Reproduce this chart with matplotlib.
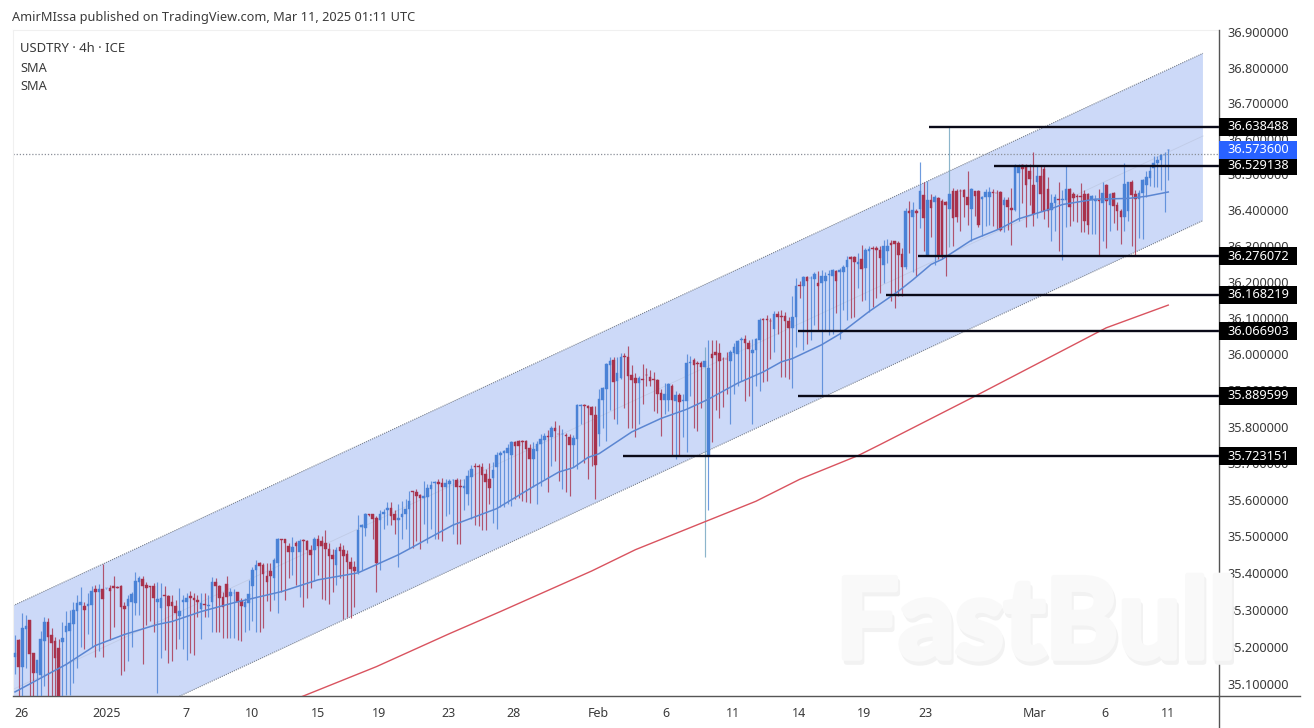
import matplotlib
matplotlib.use("Agg")
import matplotlib.pyplot as plt
import matplotlib.patheffects as pe
from matplotlib.patches import Rectangle, Polygon
from matplotlib.transforms import IdentityTransform
from matplotlib.ticker import NullLocator, FixedLocator, NullFormatter

plt.rcParams['font.family'] = ['Noto Sans', 'DejaVu Sans']

opens = [
35.176,35.223,35.149,35.253,35.276,35.187,35.133,35.129,35.22,35.271,
35.237,35.221,35.201,35.217,35.246,35.248,35.266,35.302,35.318,35.314,
35.314,35.318,35.36,35.354,35.36,35.363,35.363,35.369,35.366,35.37,
35.314,35.314,35.327,35.323,35.381,35.388,35.372,35.368,35.368,35.327,
35.309,35.345,35.341,35.327,35.316,35.289,35.327,35.325,35.341,35.338,
35.332,35.307,35.321,35.314,35.325,35.381,35.369,35.339,35.374,35.341,
35.349,35.354,35.329,35.311,35.323,35.368,35.413,35.431,35.426,35.397,
35.411,35.392,35.431,35.497,35.496,35.478,35.462,35.487,35.462,35.494,
35.491,35.467,35.467,35.496,35.491,35.485,35.471,35.453,35.426,35.474,
35.467,35.455,35.435,35.42,35.408,35.53,35.527,35.564,35.564,35.554,
35.55,35.564,35.575,35.581,35.564,35.55,35.556,35.565,35.578,35.627,
35.626,35.617,35.608,35.612,35.633,35.649,35.652,35.649,35.638,35.647,
35.657,35.659,35.641,35.636,35.62,35.667,35.696,35.696,35.693,35.674,
35.66,35.663,35.695,35.727,35.732,35.732,35.726,35.761,35.764,35.766,
35.766,35.746,35.716,35.738,35.757,35.768,35.779,35.777,35.8,35.785,
35.783,35.782,35.777,35.755,35.77,35.861,35.863,35.862,35.859,35.836,
35.784,35.879,35.909,35.975,35.988,35.929,35.938,36.0,35.997,35.947,
35.938,35.925,35.936,35.948,35.941,35.935,35.934,35.897,35.877,35.879,
35.915,35.876,35.891,35.875,35.875,35.981,35.988,35.98,35.979,35.97,
35.725,36.004,36.011,36.006,35.992,35.992,35.985,36.006,36.004,36.044,
36.045,36.034,36.006,36.015,36.043,36.102,36.101,36.097,36.073,36.114,
36.111,36.111,36.096,36.077,36.108,36.195,36.192,36.217,36.214,36.213,
36.201,36.201,36.207,36.223,36.222,36.235,36.233,36.232,36.247,36.273,
36.273,36.254,36.269,36.243,36.289,36.298,36.299,36.294,36.252,36.291,
36.313,36.317,36.313,36.282,36.247,36.403,36.385,36.403,36.407,36.446,
36.278,36.433,36.426,36.437,36.429,36.426,36.407,36.458,36.458,36.458,
36.46,36.44,36.407,36.457,36.458,36.435,36.44,36.442,36.456,36.453,
36.454,36.419,36.433,36.41,36.405,36.509,36.53,36.528,36.514,36.475,
36.482,36.5,36.519,36.463,36.405,36.423,36.436,36.434,36.432,36.463,
36.449,36.443,36.443,36.449,36.449,36.432,36.431,36.432,36.423,36.475,
36.419,36.451,36.419,36.401,36.385,36.403,36.482,36.449,36.435,36.452,
36.475,36.495,36.522,36.535,36.544,36.558,36.572]

closes = [
35.189,35.149,35.255,35.262,35.185,35.133,35.169,35.226,35.273,35.232,
35.214,35.174,35.06,35.228,35.262,35.268,35.305,35.323,35.327,35.305,
35.32,35.357,35.352,35.361,35.333,35.364,35.357,35.365,35.365,35.311,
35.307,35.334,35.347,35.384,35.39,35.368,35.363,35.366,35.336,35.334,
35.336,35.341,35.314,35.314,35.295,35.302,35.332,35.338,35.336,35.33,
35.325,35.323,35.319,35.318,35.381,35.368,35.338,35.312,35.34,35.354,
35.351,35.325,35.316,35.327,35.347,35.413,35.426,35.424,35.401,35.381,
35.397,35.44,35.496,35.495,35.486,35.462,35.476,35.477,35.491,35.491,
35.467,35.453,35.496,35.478,35.478,35.469,35.451,35.444,35.467,35.465,
35.451,35.435,35.415,35.411,35.521,35.535,35.564,35.562,35.552,35.431,
35.564,35.572,35.581,35.559,35.548,35.554,35.565,35.578,35.601,35.626,
35.615,35.609,35.615,35.636,35.645,35.652,35.647,35.638,35.649,35.656,
35.659,35.638,35.639,35.642,35.67,35.688,35.694,35.694,35.673,35.652,
35.636,35.685,35.727,35.731,35.738,35.745,35.761,35.75,35.752,35.761,
35.743,35.716,35.743,35.757,35.77,35.778,35.775,35.8,35.793,35.783,
35.785,35.778,35.755,35.773,35.864,35.863,35.861,35.857,35.837,35.698,
35.881,35.911,35.976,35.986,35.927,35.952,35.997,35.995,35.945,35.934,
35.925,35.938,35.934,35.946,35.929,35.933,35.895,35.877,35.895,35.922,
35.879,35.891,35.873,35.877,35.979,35.983,35.975,35.978,35.97,35.984,
35.965,35.993,36.002,35.985,35.99,35.99,36.011,36.025,36.04,36.046,
36.034,36.018,36.015,36.045,36.1,36.1,36.098,36.095,36.114,36.108,
36.108,36.096,36.077,36.108,36.192,36.193,36.217,36.207,36.216,36.226,
36.192,36.22,36.222,36.225,36.238,36.207,36.238,36.247,36.266,36.269,
36.261,36.261,36.24,36.294,36.297,36.296,36.292,36.271,36.303,36.303,
36.308,36.31,36.28,36.247,36.403,36.396,36.405,36.396,36.457,36.382,
36.433,36.41,36.44,36.275,36.275,36.419,36.449,36.382,36.384,36.457,
36.44,36.419,36.463,36.443,36.364,36.442,36.454,36.456,36.452,36.451,
36.349,36.432,36.414,36.406,36.528,36.528,36.519,36.475,36.491,36.394,
36.5,36.449,36.403,36.403,36.423,36.44,36.434,36.436,36.463,36.414,
36.437,36.441,36.441,36.373,36.364,36.445,36.433,36.43,36.451,36.429,
36.449,36.417,36.401,36.385,36.477,36.482,36.446,36.435,36.452,36.488,
36.497,36.514,36.535,36.544,36.559,36.56,36.5736]

highs = [
35.237,35.225,35.295,35.29,35.278,35.187,35.169,35.248,35.285,35.282,
35.255,35.23,35.226,35.273,35.302,35.305,35.327,35.345,35.366,35.327,
35.35,35.368,35.372,35.374,35.43,35.364,35.372,35.397,35.368,35.372,
35.327,35.345,35.354,35.406,35.397,35.397,35.381,35.37,35.377,35.379,
35.377,35.368,35.345,35.345,35.332,35.365,35.345,35.35,35.356,35.35,
35.345,35.35,35.35,35.345,35.395,35.392,35.372,35.354,35.397,35.363,
35.362,35.354,35.336,35.336,35.386,35.422,35.44,35.435,35.431,35.431,
35.431,35.446,35.5,35.498,35.498,35.487,35.503,35.491,35.496,35.498,
35.494,35.48,35.503,35.509,35.505,35.521,35.485,35.471,35.476,35.485,
35.48,35.467,35.449,35.437,35.563,35.539,35.568,35.566,35.566,35.561,
35.575,35.579,35.597,35.599,35.575,35.593,35.601,35.606,35.627,35.628,
35.633,35.62,35.656,35.647,35.656,35.656,35.661,35.663,35.661,35.661,
35.661,35.663,35.661,35.661,35.686,35.699,35.706,35.702,35.706,35.688,
35.706,35.708,35.734,35.738,35.74,35.757,35.764,35.764,35.768,35.768,
35.768,35.757,35.761,35.764,35.784,35.787,35.795,35.807,35.82,35.81,
35.798,35.786,35.784,35.782,35.868,35.868,35.866,35.864,35.862,35.862,
35.909,35.913,35.979,35.997,35.997,35.997,36.006,36.006,36.027,35.975,
35.952,35.943,35.976,35.967,35.961,35.956,35.936,35.909,35.925,35.925,
35.922,35.902,35.897,35.893,36.004,36.0,35.993,35.984,35.984,36.024,
36.043,36.043,36.043,36.034,35.997,36.009,36.016,36.034,36.043,36.052,
36.056,36.043,36.047,36.049,36.103,36.103,36.113,36.103,36.124,36.124,
36.127,36.122,36.108,36.164,36.215,36.206,36.222,36.22,36.222,36.232,
36.235,36.238,36.233,36.238,36.24,36.238,36.243,36.252,36.275,36.275,
36.275,36.284,36.308,36.299,36.303,36.303,36.303,36.303,36.322,36.325,
36.322,36.319,36.317,36.299,36.41,36.429,36.426,36.407,36.54,36.482,
36.486,36.449,36.447,36.44,36.435,36.431,36.638,36.466,36.463,36.463,
36.463,36.514,36.466,36.458,36.46,36.445,36.463,36.468,36.463,36.46,
36.457,36.44,36.44,36.466,36.533,36.533,36.533,36.533,36.533,36.568,
36.528,36.528,36.528,36.496,36.449,36.449,36.482,36.46,36.528,36.466,
36.454,36.449,36.479,36.46,36.451,36.447,36.447,36.463,36.482,36.477,
36.451,36.454,36.426,36.407,36.537,36.484,36.489,36.46,36.46,36.491,
36.514,36.528,36.556,36.556,36.562,36.568,36.575]

lows = [
35.13,35.06,35.07,35.147,35.06,35.06,35.06,35.06,35.1,35.06,
35.06,35.07,35.06,35.06,35.075,35.075,35.106,35.147,35.205,35.2,
35.24,35.205,35.178,35.192,35.178,35.362,35.224,35.257,35.364,35.129,
35.138,35.165,35.205,35.291,35.291,35.158,35.264,35.275,35.246,35.079,
35.174,35.196,35.16,35.165,35.2,35.226,35.2,35.169,35.187,35.183,
35.286,35.226,35.286,35.286,35.246,35.246,35.246,35.228,35.228,35.228,
35.228,35.223,35.221,35.246,35.25,35.275,35.246,35.246,35.255,35.329,
35.302,35.332,35.295,35.354,35.332,35.39,35.399,35.372,35.34,35.313,
35.336,35.365,35.383,35.399,35.334,35.332,35.32,35.354,35.372,35.39,
35.28,35.286,35.282,35.311,35.401,35.413,35.505,35.56,35.498,35.352,
35.413,35.525,35.534,35.534,35.512,35.422,35.496,35.524,35.473,35.473,
35.492,35.469,35.537,35.487,35.524,35.496,35.496,35.492,35.56,35.565,
35.51,35.484,35.484,35.576,35.59,35.551,35.536,35.533,35.521,35.521,
35.592,35.542,35.524,35.583,35.583,35.592,35.588,35.606,35.61,35.601,
35.597,35.594,35.638,35.592,35.642,35.661,35.624,35.697,35.711,35.656,
35.633,35.624,35.615,35.693,35.688,35.811,35.706,35.661,35.697,35.606,
35.75,35.802,35.765,35.849,35.825,35.813,35.935,35.856,35.802,35.802,
35.776,35.811,35.867,35.915,35.915,35.847,35.843,35.779,35.838,35.847,
35.725,35.715,35.725,35.775,35.734,35.888,35.802,35.793,35.856,35.447,
35.575,35.761,35.849,35.827,35.858,35.893,35.811,35.893,35.915,35.929,
35.875,35.888,35.813,35.915,35.902,35.927,35.931,35.992,36.01,36.061,
35.94,35.94,35.936,35.91,36.024,36.159,36.015,36.033,36.043,36.085,
36.071,35.889,36.071,36.057,36.061,36.117,36.047,36.127,36.099,36.103,
36.108,36.187,36.15,36.154,36.122,36.136,36.159,36.173,36.201,36.257,
36.15,36.131,36.164,36.164,36.24,36.285,36.231,36.22,36.355,36.291,
36.278,36.329,36.252,36.268,36.268,36.222,36.301,36.303,36.37,36.347,
36.384,36.364,36.317,36.389,36.356,36.333,36.361,36.364,36.361,36.352,
36.347,36.342,36.349,36.308,36.403,36.375,36.423,36.356,36.419,36.361,
36.382,36.403,36.38,36.356,36.319,36.347,36.29,36.264,36.356,36.361,
36.375,36.37,36.342,36.342,36.338,36.338,36.338,36.275,36.319,36.299,
36.347,36.368,36.349,36.31,36.347,36.375,36.303,36.278,36.327,36.325,
36.44,36.472,36.47,36.47,36.46,36.398,36.488]

sma_fast_idx = [0,7,14,22,30,39,43,51,60,73,83,94,105,108,115,120,132,142,149,153,157,160,169,177,184,190,198,205,210,213,221,226,234,242,246,251,254,262,270,275,283,287,296,305,310,316]
sma_fast = [35.083,35.12,35.157,35.208,35.238,35.265,35.273,35.3,35.324,35.354,35.386,35.405,35.454,35.47,35.508,35.535,35.58,35.64,35.68,35.692,35.72,35.73,35.79,35.827,35.852,35.88,35.924,35.955,35.983,35.992,36.03,36.06,36.122,36.178,36.21,36.253,36.267,36.32,36.353,36.38,36.405,36.42,36.435,36.437,36.443,36.455]
sma_slow_idx = [78,99,119,133,158,170,188,203,215,231,237,263,299,316]
sma_slow = [35.068,35.151,35.24,35.3,35.41,35.468,35.54,35.6,35.66,35.725,35.755,35.888,36.077,36.14]

channel_idx = [-0.5, 325.5]
channel_top = [35.316, 36.845]
channel_bottom = [34.864, 36.375]
channel_mid = [35.09, 36.612]

level_values = [36.638488, 36.529138, 36.276072, 36.168219, 36.066903, 35.889599, 35.723151]
level_start = [250.4, 268.2, 247.4, 238.6, 214.5, 214.5, 166.6]
last_price = 36.5736
dotted_price = 36.561
pale_wicks = [189, 256]

price_ticks = [36.9,36.8,36.7,36.6,36.5,36.4,36.3,36.2,36.1,36.0,35.9,35.8,35.7,35.6,35.5,35.4,35.3,35.2,35.1]
date_pos = [1.9,25.2,46.8,65,83,99.7,118.9,136.7,159.7,178.4,196.7,214.8,232.6,249.6,279.5,298.6,315.9]
date_labels = ['26','2025','7','10','15','19','23','28','Feb','6','11','14','19','23','Mar','6','11']

BLUE = '#4a82d6'
RED = '#a8324c'
TXT = '#3a3a3a'
W, H = 1314, 728

fig = plt.figure(figsize=(W/100, H/100), dpi=100, facecolor='white')
ax = fig.add_axes([13/W, 1-696/H, 1206/W, 666/H])
ax.set_yscale('log')
ax.set_xlim(-0.55, 329.9)
ax.set_ylim(35.072, 36.911)
ax.yaxis.set_major_locator(NullLocator()); ax.yaxis.set_minor_locator(NullLocator())
ax.yaxis.set_major_formatter(NullFormatter()); ax.yaxis.set_minor_formatter(NullFormatter())
ax.spines['right'].set_visible(False)
ax.spines['top'].set_color('#f0f0f0')
ax.spines['left'].set_color('#f0f0f0')
ax.spines['bottom'].set_color('#555555')
ax.spines['bottom'].set_linewidth(1.0)

# channel
ax.add_patch(Polygon(list(zip(channel_idx, channel_top)) + list(zip(channel_idx[::-1], channel_bottom[::-1])),
                     closed=True, fc='#ccd9f8', ec='none', zorder=1))
ax.plot(channel_idx, channel_top, color='#777f8c', lw=0.8, ls=(0, (1, 1)), zorder=2)
ax.plot(channel_idx, channel_bottom, color='#777f8c', lw=0.8, ls=(0, (1, 1)), zorder=2)
ax.plot(channel_idx, channel_mid, color='#c0cbe6', lw=0.6, zorder=2)

# dotted price line
ax.axhline(dotted_price, color='#8a8f98', lw=0.9, ls=(0, (1, 1.5)), zorder=2)

# candles
idx = list(range(len(opens)))
cols = [BLUE if c >= o else RED for o, c in zip(opens, closes)]
wick_cols = ['#6fa3bf' if i in pale_wicks else c for i, c in enumerate(cols)]
ax.vlines(idx, lows, highs, colors=wick_cols, lw=0.85, alpha=0.8, zorder=3)
ax.bar(idx, [abs(c-o) for o, c in zip(opens, closes)], bottom=[min(o, c) for o, c in zip(opens, closes)],
       width=0.72, color=cols, edgecolor=cols, lw=0.3, zorder=4)

# SMAs
ax.plot(sma_fast_idx, sma_fast, color='#5b86d2', lw=1.1, zorder=5)
ax.plot(sma_slow_idx, sma_slow, color='#d9535f', lw=1.0, zorder=5)

# levels
ax.hlines(level_values, level_start, 329.9, color='#0a0a18', lw=1.7, zorder=6)

# date axis
ax.xaxis.set_major_locator(FixedLocator(date_pos))
ax.set_xticklabels(date_labels)
ax.tick_params(axis='x', length=0, pad=8, labelsize=9, labelcolor=TXT)
for lab, t in zip(ax.get_xticklabels(), date_labels):
    if t == '2025':
        lab.set_fontweight('bold')

# vertical separator and axis extension drawn in pixels
pix = IdentityTransform()
fig.add_artist(plt.Line2D([1219, 1219], [0, H-30], color='#555555', lw=1.0, transform=pix))
fig.add_artist(plt.Line2D([1219, 1300], [H-696, H-696], color='#555555', lw=1.0, transform=pix))

def price_y(p):
    return ax.transData.transform((0, p))[1]

for p in price_ticks:
    fig.text(1258/W, price_y(p)/H, f'{p:.6f}', ha='center', va='center', fontsize=9.2, color=TXT, zorder=3)

def price_tag(p, fc, h):
    y = price_y(p)
    fig.add_artist(Rectangle((1219, y-h/2), 78, h, fc=fc, ec='none', transform=pix, zorder=5))
    fig.text(1258/W, y/H, f'{p:.6f}', ha='center', va='center', fontsize=9.2, color='white', zorder=6)

for v in level_values:
    price_tag(v, '#000000', 18)
price_tag(last_price, '#2962ff', 18)

# header text
fig.text(12/W, 1-18/H, 'AmirMIssa published on TradingView.com, Mar 11, 2025 01:11 UTC', fontsize=9.2,
         color=TXT, ha='left', va='center')
fig.text(20/W, 1-49/H, 'USDTRY · 4h · ICE', fontsize=9.4, color=TXT, ha='left', va='center')
fig.text(20/W, 1-68/H, 'SMA', fontsize=9.2, color=TXT, ha='left', va='center')
fig.text(20/W, 1-87/H, 'SMA', fontsize=9.2, color=TXT, ha='left', va='center')

# watermark
fig.text(1038/W, 1-630/H, 'FastBull', fontsize=80, fontweight='bold', family='Lato', color='#f2f2f2',
         ha='center', va='center', zorder=8, path_effects=[pe.withStroke(linewidth=4, foreground='#f2f2f2')])
fig.text(1036/W, 1-626/H, 'FastBull', fontsize=80, fontweight='bold', family='Lato', color='#f9f9f9',
         ha='center', va='center', zorder=9, path_effects=[pe.withStroke(linewidth=4, foreground='#f9f9f9')])

fig.savefig('out.png', dpi=100, facecolor='white')
